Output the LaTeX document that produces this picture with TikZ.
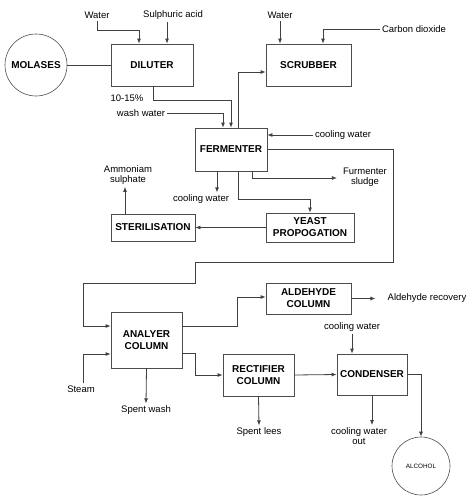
\documentclass[tikz,border=0pt]{standalone}
\usepackage{fontspec}
\setmainfont{Liberation Sans}
\usepackage{tikz}
\usetikzlibrary{arrows.meta}
\tikzset{>={Latex[length=5pt,width=4pt]}}
\tikzset{
    unit/.style={draw=black!70,line width=0.8pt,font=\bfseries,align=center,inner sep=1pt},
    tank/.style={draw=black!70,line width=0.6pt,circle,inner sep=0pt},
    lbl/.style={align=center,inner sep=2pt},
    flow/.style={draw=black!75,line width=0.8pt}
}

\begin{document}
\begin{tikzpicture}[x=1pt,y=-1pt,font=\fontsize{9.5}{10.5}\selectfont]
            \useasboundingbox (0,0) rectangle (475,498);
            \node[tank,minimum size=62pt,font=\bfseries] (molases) at (36,65) {MOLASES};
            \node[unit,minimum width=82pt,minimum height=42pt] (diluter) at (152,65) {DILUTER};
            \node[unit,minimum width=85pt,minimum height=42pt] (scrubber) at (308.5,65) {SCRUBBER};
            \node[unit,minimum width=72pt,minimum height=43pt] (fermenter) at (231,149.5) {FERMENTER};
            \node[unit,minimum width=88pt,minimum height=29pt] (yeast) at (310,227.5) {YEAST\\PROPOGATION};
            \node[unit,minimum width=84pt,minimum height=27pt] (steril) at (153,227.5) {STERILISATION};
            \node[unit,minimum width=71pt,minimum height=56pt] (analyzer) at (146.5,340) {ANALYER\\COLUMN};
            \node[unit,minimum width=85pt,minimum height=31pt] (aldehyde) at (308.5,298.5) {ALDEHYDE\\COLUMN};
            \node[unit,minimum width=71pt,minimum height=42pt] (rectifier) at (258.5,375) {RECTIFIER\\COLUMN};
            \node[unit,minimum width=70pt,minimum height=41pt] (condenser) at (372,374.5) {CONDENSER};
            \node[tank,minimum size=58pt,font=\fontsize{6.3}{7}\selectfont] (alcohol) at (421,466) {ALCOHOL};

            \node[lbl] (water1) at (97,15) {Water};
            \node[lbl] (sulph) at (173,15) {Sulphuric acid};
            \node[lbl] (water2) at (280,15) {Water};
            \node[lbl] (co2) at (414,29) {Carbon dioxide};
            \node[lbl] (pct) at (127,98) {10-15\%};
            \node[lbl] (wash) at (141,113) {wash water};
            \node[lbl] (cool1) at (343,135) {cooling water};
            \node[lbl] (cool2) at (201,199) {cooling water};
            \node[lbl] (sludge) at (365,177) {Furmenter\\sludge};
            \node[lbl] (ammon) at (128,175) {Ammoniam\\sulphate};
            \node[lbl] (steam) at (81,389) {Steam};
            \node[lbl] (spentwash) at (146,410) {Spent wash};
            \node[lbl] (aldrec) at (427,298.5) {Aldehyde recovery};
            \node[lbl] (cool3) at (352,327) {cooling water};
            \node[lbl] (spentlees) at (259,432) {Spent lees};
            \node[lbl] (coolout) at (359,436) {cooling water\\out};

            \draw[flow] (molases.east) -- (diluter.west);
            \draw[flow,->] (water1.south) |- (139,30) -- (139,0 |- diluter.north);
            \draw[flow,->] (167,0 |- sulph.south) -- (167,0 |- diluter.north);
            \draw[flow,->] (153,0 |- diluter.south) |- (231,100) -- (231,0 |- fermenter.north);
            \draw[flow,->] (wash.east) -| (223,0 |- fermenter.north);
            \draw[flow,->] (238,0 |- fermenter.north) |- (scrubber.west |- 0,72);
            \draw[flow,->] (water2.south) -- (water2.south |- scrubber.north);
            \draw[flow,->] (co2.west) -| (323,0 |- scrubber.north);
            \draw[flow,->] (cool1.west) -- (fermenter.east |- cool1.west);
            \draw[flow,->] (fermenter.east) -| (393,262) -| (195,283) -| (83,326) -- (analyzer.west |- 0,326);
            \draw[flow,->] (217,0 |- fermenter.south) -- (217,0 |- cool2.north);
            \draw[flow,->] (252,0 |- fermenter.south) |- ([xshift=-4pt]sludge.west |- 0,178);
            \draw[flow,->] (238,0 |- fermenter.south) |- (yeast.north |- 0,199) -- (yeast.north);
            \draw[flow,->] (yeast.west) -- (steril.east);
            \draw[flow,->] (125,0 |- steril.north) -- (125,0 |- ammon.south);
            \draw[flow,->] (steam.north -| 83,0) |- (analyzer.west |- 0,354);
            \draw[flow,->] (analyzer.south) -- (spentwash.north);
            \draw[flow,->] (analyzer.east |- 0,326) -| (237,297) -- (aldehyde.west |- 0,297);
            \draw[flow,->] (aldehyde.east) -- ([xshift=-10pt]aldrec.west);
            \draw[flow,->] (analyzer.east |- 0,353) -| (195,375) -- (rectifier.west);
            \draw[flow,->] (rectifier.east) -- (condenser.west);
            \draw[flow,->] (cool3.south) -- (cool3.south |- condenser.north);
            \draw[flow,->] (condenser.south) -- (coolout.north -| condenser.south);
            \draw[flow,->] (rectifier.south) -- (spentlees.north);
            \draw[flow,->] (condenser.east) -| (alcohol.north);
        \end{tikzpicture}
\end{document}
